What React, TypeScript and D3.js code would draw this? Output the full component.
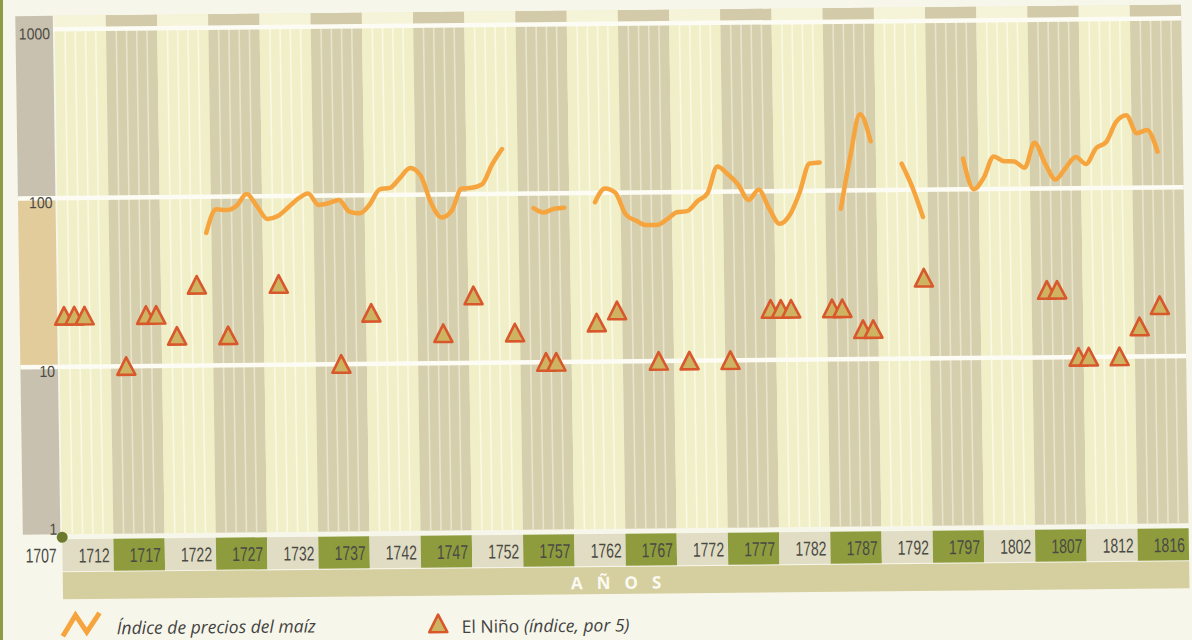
import { useEffect, useRef } from "react";
import * as d3 from "d3";

// maize price index, one value per year from 1722 (null = no data)
const maizeStartYear = 1722;
const maizeIndex: (number | null)[] = [
  61, 84, 83, 88, 103, 87, 73, 76, 85, 96, // 1722-1731
  103, 88, 90, 94, 80, 78, 88, 108, 110, 126, // 1732-1741
  144, 130, 89, 73, 80, 108, 109, 114, 149, 184, // 1742-1751
  null, null, 82, 77, 81, 82, null, null, // 1752-1759
  88, 106, 100, 74, 68, 64, 64, 69, 76, 77, // 1760-1769
  88, 98, 141, 127, 110, 89, 102, 79, 64, 72, // 1770-1779
  98, 145, 147, null, 78, 160, 282, 195, null, null, // 1780-1789
  143, 104, 69, null, null, null, // 1790-1795
  152, 100, 117, 156, 146, 145, 133, 187, 141, 113, // 1796-1805
  132, 153, 139, 172, 187, 246, 269, 210, 219, 163, // 1806-1815
];

// El Niño index x5
const ninoYears = [
  1708, 1709, 1710, 1714, 1716, 1717, 1719, 1721, 1724, 1729, 1735, 1738,
  1745, 1748, 1752, 1755, 1756, 1760, 1762, 1766, 1769, 1773, 1777, 1778,
  1779, 1783, 1784, 1786, 1787, 1792, 1804, 1805, 1807, 1808, 1811, 1813, 1815,
];
const ninoValues = [
  20, 20, 20, 10, 20, 20, 15, 30, 15, 30, 10, 20,
  15, 25, 15, 10, 10, 17, 20, 10, 10, 10, 20, 20,
  20, 20, 20, 15, 15, 30, 25, 25, 10, 10, 10, 15, 20,
];

const periodLabels = [
  "1712", "1717", "1722", "1727", "1732", "1737", "1742", "1747", "1752", "1757", "1762",
  "1767", "1772", "1777", "1782", "1787", "1792", "1797", "1802", "1807", "1812", "1816",
];
const yTicks = [1, 10, 100, 1000];

const W = 1192;
const H = 640;
// the scanned page is slightly skewed
const SKX = 0.0146;
const SKY = -0.0097;

const NUM = "'Liberation Sans', Arial, sans-serif";
const SANS = "'Open Sans', 'Noto Sans', sans-serif";

const App = () => {
  const ref = useRef<SVGSVGElement>(null);

  useEffect(() => {
    if (!ref.current) return;
    const svg = d3.select(ref.current);
    svg.selectAll("*").remove();

    const plotL = 58.8, plotR = 1185.2, plotT = 10.5, plotB = 529;

    const x = d3.scaleLinear().domain([1707.5, 1817.5]).range([plotL, plotR]);
    const y = d3.scaleLog().domain([1, 1000]).range([530.5, 24]);

    svg.append("rect").attr("width", W).attr("height", H).attr("fill", "#f7f6eb");
    svg.append("rect").attr("x", 0).attr("width", 3).attr("height", H).attr("fill", "#8c9c40");

    const g = svg.append("g")
      .attr("transform", `matrix(1, ${SKY}, ${SKX}, 1, ${-SKX * 300}, ${-SKY * 600})`);

    // left axis column
    const colX = 19.5, colW = 37.5;
    g.append("rect").attr("x", colX).attr("y", plotT).attr("width", colW)
      .attr("height", y(100) - plotT).attr("fill", "#c9c1b0");
    g.append("rect").attr("x", colX).attr("y", y(100)).attr("width", colW)
      .attr("height", y(10) - y(100)).attr("fill", "#e2cc9c");
    g.append("rect").attr("x", colX).attr("y", y(10)).attr("width", colW)
      .attr("height", plotB - y(10)).attr("fill", "#c9c1b0");

    // five-year columns
    const periods = periodLabels.map((lab, i) => ({ lab, start: 1707.5 + i * 5, dark: i % 2 === 1 }));
    g.selectAll(".col").data(periods).join("rect")
      .attr("x", d => x(d.start)).attr("y", plotT)
      .attr("width", d => x(d.start + 5) - x(d.start))
      .attr("height", plotB - plotT)
      .attr("fill", d => (d.dark ? "#d6cfad" : "#f0efc8"));
    g.selectAll(".top").data(periods).join("rect")
      .attr("x", d => x(d.start)).attr("y", plotT)
      .attr("width", d => x(d.start + 5) - x(d.start))
      .attr("height", y(1000) - plotT)
      .attr("fill", d => (d.dark ? "#d2caa8" : "#f5f4d8"));

    // yearly thin lines
    const yearEdges = d3.range(1708.5, 1817, 1).filter(v => Math.round(v - 1707.5) % 5 !== 0);
    g.selectAll(".yl").data(yearEdges).join("line")
      .attr("x1", d => x(d)).attr("x2", d => x(d))
      .attr("y1", y(1000)).attr("y2", plotB)
      .attr("stroke", d => (Math.floor((d - 1707.5) / 5) % 2 === 1 ? "#e9e4cc" : "#f9f9e4"))
      .attr("stroke-width", 1.6);

    // horizontal grid
    g.selectAll(".grid").data([10, 100, 1000]).join("line")
      .attr("x1", d => (d === 1000 ? 57 : colX)).attr("x2", plotR)
      .attr("y1", d => y(d)).attr("y2", d => y(d))
      .attr("stroke", "#fcfcf4").attr("stroke-width", 4.5);

    // y tick labels
    g.selectAll(".yt").data(yTicks).join("text")
      .attr("transform", d => `translate(54,${d === 1 ? y(d) - 1 : y(d) + 10}) scale(0.88,1)`)
      .attr("text-anchor", "end")
      .attr("font-family", NUM).attr("font-size", 16).attr("fill", "#4e4b46")
      .text(d => String(d));

    // period label band
    g.selectAll(".lb").data(periods).join("rect")
      .attr("x", d => x(d.start)).attr("y", 534)
      .attr("width", d => x(d.start + 5) - x(d.start)).attr("height", 32)
      .attr("fill", d => (d.dark ? "#8e9c3e" : "#e1ddc4"));
    g.selectAll(".lt").data(periods).join("text")
      .attr("transform", d => `translate(${x(d.start + 5) - 4},557.5) scale(0.7,1)`)
      .attr("text-anchor", "end")
      .attr("font-family", NUM).attr("font-size", 20).attr("fill", "#4a4a44")
      .text(d => d.lab);
    g.append("text").attr("transform", "translate(53,557) scale(0.7,1)").attr("text-anchor", "end")
      .attr("font-family", NUM).attr("font-size", 20).attr("fill", "#4a4a44").text("1707");
    g.append("circle").attr("cx", plotL).attr("cy", 532).attr("r", 5.5).attr("fill", "#6d7a2c");

    g.append("rect").attr("x", plotL).attr("y", 567).attr("width", plotR - plotL).attr("height", 27)
      .attr("fill", "#d5ce9e");
    g.append("text").attr("x", 619).attr("y", 589).attr("text-anchor", "middle")
      .attr("font-family", SANS).attr("font-weight", 700).attr("font-size", 17)
      .attr("letter-spacing", 14).attr("fill", "#fbfaf2").text("AÑOS");

    // maize price line
    const pts = maizeIndex.map((v, i) => ({ year: maizeStartYear + i, v }));
    const line = d3.line<{ year: number; v: number | null }>()
      .defined(d => d.v !== null)
      .x(d => x(d.year))
      .y(d => y(d.v as number))
      .curve(d3.curveMonotoneX);
    g.append("path").datum(pts)
      .attr("fill", "none").attr("stroke", "#f6a43e").attr("stroke-width", 4.5)
      .attr("stroke-linejoin", "round").attr("stroke-linecap", "round")
      .attr("d", line);

    // El Niño triangles
    const tri = "M0,-9L9,8.5L-9,8.5Z";
    g.selectAll(".tri").data(ninoYears).join("path")
      .attr("transform", (d, i) => `translate(${x(d)},${y(ninoValues[i])})`)
      .attr("d", tri)
      .attr("fill", "#ceb462").attr("stroke", "#d8572b").attr("stroke-width", 2.6)
      .attr("stroke-linejoin", "round");

    // legend
    g.append("path").attr("d", "M58,631L71,610L82,627L95,608")
      .attr("fill", "none").attr("stroke", "#f6a43e").attr("stroke-width", 5)
      .attr("stroke-linejoin", "miter");
    g.append("text").attr("x", 112).attr("y", 629.5)
      .attr("font-family", SANS).attr("font-style", "italic").attr("font-size", 17.5)
      .attr("fill", "#424240").text("Índice de precios del maíz");
    g.append("path").attr("transform", "translate(433.5,622)").attr("d", tri)
      .attr("fill", "#ceb462").attr("stroke", "#d8572b").attr("stroke-width", 2.6)
      .attr("stroke-linejoin", "round");
    const t2 = g.append("text").attr("x", 457).attr("y", 631.5)
      .attr("font-family", SANS).attr("font-size", 17.5).attr("fill", "#424240");
    t2.append("tspan").text("El Niño ");
    t2.append("tspan").attr("font-style", "italic").text("(índice, por 5)");
  }, []);

  return (
    <svg ref={ref} width={W} height={H}
      style={{ position: "fixed", left: 0, top: 0, display: "block" }} />
  );
};

export default App;
